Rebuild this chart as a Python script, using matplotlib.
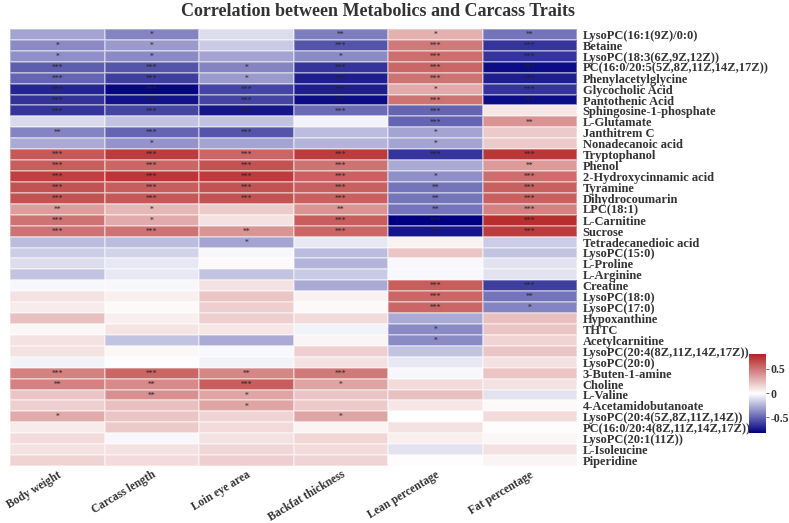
import numpy as np
import matplotlib
matplotlib.use("Agg")
import matplotlib.pyplot as plt
from matplotlib.colors import LinearSegmentedColormap

plt.rcParams['font.family'] = ['Liberation Serif', 'DejaVu Serif']

traits = ["Body weight", "Carcass length", "Loin eye area",
          "Backfat thickness", "Lean percentage", "Fat percentage"]

metabolites = [
    "LysoPC(16:1(9Z)/0:0)", "Betaine", "LysoPC(18:3(6Z,9Z,12Z))",
    "PC(16:0/20:5(5Z,8Z,11Z,14Z,17Z))", "Phenylacetylglycine", "Glycocholic Acid",
    "Pantothenic Acid", "Sphingosine-1-phosphate", "L-Glutamate", "Janthitrem C",
    "Nonadecanoic acid", "Tryptophanol", "Phenol", "2-Hydroxycinnamic acid",
    "Tyramine", "Dihydrocoumarin", "LPC(18:1)", "L-Carnitine", "Sucrose",
    "Tetradecanedioic acid", "LysoPC(15:0)", "L-Proline", "L-Arginine", "Creatine",
    "LysoPC(18:0)", "LysoPC(17:0)", "Hypoxanthine", "THTC", "Acetylcarnitine",
    "LysoPC(20:4(8Z,11Z,14Z,17Z))", "LysoPC(20:0)", "3-Buten-1-amine", "Choline",
    "L-Valine", "4-Acetamidobutanoate", "LysoPC(20:4(5Z,8Z,11Z,14Z))",
    "PC(16:0/20:4(8Z,11Z,14Z,17Z))", "LysoPC(20:1(11Z))", "L-Isoleucine", "Piperidine",
]

corr = [
    [-0.30, -0.40, -0.12, -0.42, 0.28, -0.45],
    [-0.38, -0.33, -0.18, -0.55, 0.48, -0.65],
    [-0.36, -0.38, -0.30, -0.38, 0.52, -0.65],
    [-0.52, -0.55, -0.40, -0.65, 0.55, -0.78],
    [-0.50, -0.62, -0.33, -0.72, 0.50, -0.72],
    [-0.70, -0.80, -0.60, -0.72, 0.30, -0.65],
    [-0.66, -0.76, -0.60, -0.78, 0.50, -0.78],
    [-0.65, -0.60, -0.75, -0.48, -0.50, 0.08],
    [-0.13, -0.20, -0.20, -0.05, -0.50, 0.38],
    [-0.40, -0.50, -0.55, -0.22, -0.30, 0.18],
    [-0.28, -0.35, -0.30, -0.25, -0.30, 0.18],
    [0.60, 0.70, 0.55, 0.70, -0.65, 0.72],
    [0.58, 0.55, 0.62, 0.50, -0.28, 0.36],
    [0.68, 0.72, 0.70, 0.56, -0.36, 0.52],
    [0.62, 0.58, 0.62, 0.57, -0.45, 0.57],
    [0.62, 0.60, 0.62, 0.57, -0.45, 0.57],
    [0.35, 0.25, 0.18, 0.38, -0.45, 0.45],
    [0.50, 0.30, 0.10, 0.58, -0.82, 0.75],
    [0.50, 0.50, 0.38, 0.55, -0.75, 0.70],
    [-0.22, -0.22, -0.30, -0.08, 0.04, -0.17],
    [-0.17, -0.15, -0.03, -0.22, 0.20, -0.20],
    [-0.12, -0.08, 0.01, -0.25, -0.03, -0.10],
    [-0.20, -0.08, -0.20, -0.18, -0.03, -0.10],
    [-0.03, -0.03, 0.10, -0.28, 0.58, -0.62],
    [0.10, 0.05, 0.20, 0.04, 0.55, -0.45],
    [0.06, 0.01, 0.17, 0.01, 0.55, -0.40],
    [0.22, 0.05, 0.17, 0.12, -0.28, 0.22],
    [0.02, 0.09, 0.08, -0.05, -0.38, 0.20],
    [0.10, -0.20, -0.28, 0.03, -0.38, 0.15],
    [0.10, 0.02, -0.03, 0.17, -0.20, 0.20],
    [-0.05, -0.02, -0.05, 0.10, -0.08, 0.10],
    [0.45, 0.55, 0.43, 0.48, -0.03, 0.20],
    [0.45, 0.42, 0.58, 0.32, 0.12, 0.10],
    [0.20, 0.40, 0.32, 0.20, 0.22, -0.10],
    [0.17, 0.22, 0.32, 0.18, 0.08, 0.01],
    [0.30, 0.20, 0.15, 0.32, -0.01, 0.12],
    [0.06, 0.18, 0.12, 0.03, 0.10, 0.00],
    [0.12, -0.03, 0.10, 0.14, 0.05, 0.02],
    [0.10, 0.10, 0.14, 0.12, -0.10, 0.10],
    [0.15, 0.12, 0.17, 0.15, 0.00, 0.03],
]

stars = [
    ["", "*", "", "**", "*", "**"],
    ["*", "*", "", "***", "***", "***"],
    ["*", "*", "", "*", "***", "***"],
    ["***", "***", "*", "***", "***", "***"],
    ["***", "***", "*", "***", "***", "***"],
    ["***", "***", "***", "***", "*", "***"],
    ["***", "***", "***", "***", "***", "***"],
    ["***", "***", "***", "***", "***", ""],
    ["", "", "", "", "***", "**"],
    ["**", "***", "***", "", "*", ""],
    ["", "*", "", "", "*", ""],
    ["***", "***", "***", "***", "***", "***"],
    ["***", "***", "***", "***", "", "**"],
    ["***", "***", "***", "***", "*", "***"],
    ["***", "***", "***", "***", "**", "***"],
    ["***", "***", "***", "***", "**", "***"],
    ["**", "*", "", "**", "**", "***"],
    ["***", "*", "", "***", "***", "***"],
    ["***", "***", "**", "***", "***", "***"],
    ["", "", "*", "", "", ""],
    ["", "", "", "", "", ""],
    ["", "", "", "", "", ""],
    ["", "", "", "", "", ""],
    ["", "", "", "", "***", "***"],
    ["", "", "", "", "***", "**"],
    ["", "", "", "", "***", "*"],
    ["", "", "", "", "", ""],
    ["", "", "", "", "*", ""],
    ["", "", "", "", "*", ""],
    ["", "", "", "", "", ""],
    ["", "", "", "", "", ""],
    ["***", "***", "**", "***", "", ""],
    ["**", "**", "***", "*", "", ""],
    ["", "**", "*", "", "", ""],
    ["", "", "*", "", "", ""],
    ["*", "", "", "*", "", ""],
    ["", "", "", "", "", ""],
    ["", "", "", "", "", ""],
    ["", "", "", "", "", ""],
    ["", "", "", "", "", ""],
]

cmap = LinearSegmentedColormap.from_list("nwf", ["#000080", "#FFFFFF", "#B22222"])

fig = plt.figure(figsize=(7.89, 5.23), dpi=100)
ax = fig.add_axes([10 / 789, 1 - 466 / 523, 567 / 789, 437 / 523])

data = np.array(corr)
mesh = ax.pcolormesh(data, cmap=cmap, vmin=-0.82, vmax=0.80,
                     edgecolors=(1, 1, 1, 0.35), linewidth=0.3)
ax.set_xlim(0, len(traits))
ax.set_ylim(len(metabolites), 0)

for i, row in enumerate(stars):
    for j, s in enumerate(row):
        if s:
            ax.text(j + 0.5, i + 0.55, s, ha='center', va='center',
                    fontsize=5.5, color='#222222')

ax.set_xticks(np.arange(len(traits)) + 0.5)
ax.set_xticklabels(traits, rotation=31, ha='right', rotation_mode='anchor',
                   fontsize=8.3, fontweight='bold', color='#333333')
ax.set_yticks(np.arange(len(metabolites)) + 0.5)
ax.set_yticklabels(metabolites, fontsize=9, fontweight='bold', color='#333333')
ax.yaxis.tick_right()
ax.tick_params(axis='y', length=0, pad=4)
ax.tick_params(axis='x', length=0, pad=2)
for sp in ax.spines.values():
    sp.set_visible(False)

cax = fig.add_axes([749 / 789, 1 - 433 / 523, 17 / 789, 79 / 523])
cb = fig.colorbar(mesh, cax=cax, ticks=[-0.5, 0, 0.5])
cb.ax.set_yticklabels(["-0.5", "0", "0.5"], fontsize=8.5, fontweight='bold', color='#333333')
cb.ax.tick_params(length=2, width=0.6, color='#555555', pad=1)
cb.outline.set_visible(False)

fig.text(378 / 789, 1 - 11 / 523, "Correlation between Metabolics and Carcass Traits",
         ha='center', va='center', fontsize=13, fontweight='bold', color='#333333')

fig.savefig("out.png", dpi=100)
